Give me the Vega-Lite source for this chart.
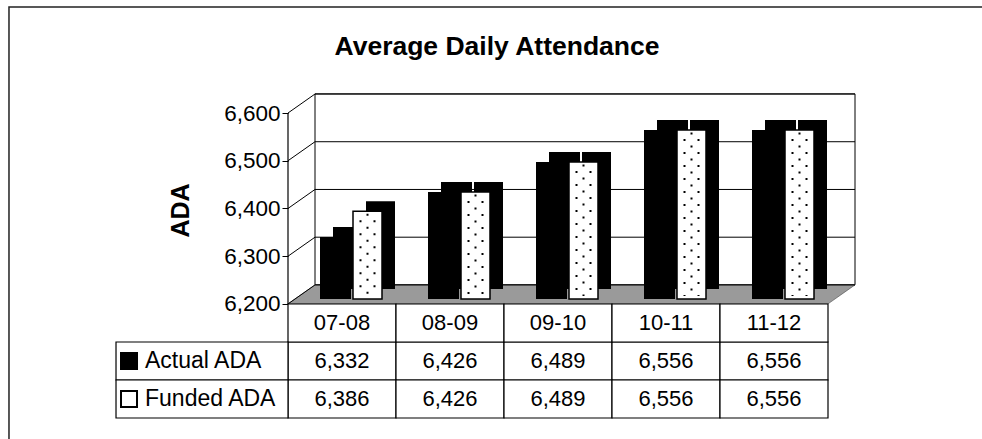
{
  "$schema": "https://vega.github.io/schema/vega-lite/v6.json",
  "width": 540,
  "height": 305,
  "autosize": {"type": "none"},
  "padding": {"left": 288, "top": 113, "right": 154, "bottom": 21},
  "background": "white",
  "config": {"view": {"stroke": null}, "font": "Liberation Sans", "text": {"font": "Liberation Sans"}},
  "title": {"text": "Average Daily Attendance", "font": "Liberation Sans", "fontSize": 26.5, "fontWeight": "bold", "color": "black", "anchor": "middle", "frame": "group", "dx": -61, "offset": -54},
  "datasets": {
    "ada": [
      {"year": "07-08", "series": "Actual ADA", "ada": 6332},
      {"year": "08-09", "series": "Actual ADA", "ada": 6426},
      {"year": "09-10", "series": "Actual ADA", "ada": 6489},
      {"year": "10-11", "series": "Actual ADA", "ada": 6556},
      {"year": "11-12", "series": "Actual ADA", "ada": 6556},
      {"year": "07-08", "series": "Funded ADA", "ada": 6386},
      {"year": "08-09", "series": "Funded ADA", "ada": 6426},
      {"year": "09-10", "series": "Funded ADA", "ada": 6489},
      {"year": "10-11", "series": "Funded ADA", "ada": 6556},
      {"year": "11-12", "series": "Funded ADA", "ada": 6556}
    ],
    "ticks": [{"v": 6200}, {"v": 6300}, {"v": 6400}, {"v": 6500}, {"v": 6600}]
  },
  "resolve": {"scale": {"x": "independent", "y": "independent"}},
  "layer": [
    {
      "data": {"values": [{}]},
      "layer": [
        {
          "mark": {"type": "rect", "fill": "white", "fillOpacity": 0, "stroke": "#222222", "strokeWidth": 1.5},
          "encoding": {
            "x": {"datum": -0.5167, "type": "quantitative", "scale": {"domain": [0, 1], "nice": false, "zero": false}, "axis": null},
            "x2": {"datum": 1.35},
            "y": {"datum": 5890, "type": "quantitative", "scale": {"domain": [5961, 6600], "nice": false, "zero": false}},
            "y2": {"datum": 6822}
          }
        },
        {
          "mark": {"type": "rect", "fill": "white", "stroke": "black", "strokeWidth": 1},
          "encoding": {
            "x": {"datum": 0.05, "type": "quantitative"},
            "x2": {"datum": 1.05},
            "y": {"datum": 6240, "type": "quantitative"},
            "y2": {"datum": 6640}
          }
        },
        {
          "mark": {"type": "point", "shape": "M-1,0.0335L0.9048,0.0335L1,-0.0335L-0.9048,-0.0335Z", "size": 321489, "filled": true, "fill": "#9a9a9a", "stroke": "#444444", "strokeWidth": 0.6, "opacity": 1},
          "encoding": {
            "x": {"datum": 0.525, "type": "quantitative"},
            "y": {"datum": 6220, "type": "quantitative"}
          }
        },
        {
          "data": {"name": "ticks"},
          "mark": {"type": "rule", "color": "black", "strokeWidth": 1, "yOffset": -19},
          "encoding": {
            "x": {"datum": 0.05, "type": "quantitative"},
            "x2": {"datum": 1.05},
            "y": {"field": "v", "type": "quantitative", "axis": {"values": [6200, 6300, 6400, 6500, 6600], "format": ",d", "domain": false, "grid": false, "ticks": true, "tickSize": 6, "tickColor": "black", "labelPadding": 2, "labelFont": "Liberation Sans", "labelFontSize": 22.5, "labelColor": "black", "title": "ADA", "titleFont": "Liberation Sans", "titleFontSize": 25, "titleFontWeight": "bold", "titleColor": "black", "titlePadding": 30, "titleY": 97}}
          }
        },
        {
          "data": {"name": "ticks"},
          "mark": {"type": "rule", "color": "black", "strokeWidth": 1, "y2Offset": -19},
          "encoding": {
            "x": {"datum": 0, "type": "quantitative"},
            "x2": {"datum": 0.05},
            "y": {"field": "v", "type": "quantitative"},
            "y2": {"field": "v"}
          }
        },
        {
          "mark": {"type": "rule", "color": "black", "strokeWidth": 1.2},
          "encoding": {
            "x": {"datum": 0, "type": "quantitative"},
            "y": {"datum": 6200, "type": "quantitative"},
            "y2": {"datum": 6600}
          }
        }
      ]
    },
    {
      "data": {"name": "ada"},
      "encoding": {
        "x": {"field": "year", "type": "nominal", "scale": {"paddingInner": 0, "paddingOuter": 0}, "axis": null},
        "y": {"field": "ada", "type": "quantitative", "scale": {"domain": [5961, 6600], "nice": false, "zero": false}, "axis": null}
      },
      "layer": [
        {
          "transform": [{"filter": "datum.series === 'Actual ADA'"}],
          "mark": {"type": "bar", "color": "black", "width": 31, "xOffset": 6.5, "yOffset": -14, "y2Offset": -15},
          "encoding": {"y2": {"datum": 6200}}
        },
        {
          "transform": [{"filter": "datum.series === 'Funded ADA'"}],
          "mark": {"type": "bar", "color": "black", "width": 29, "xOffset": 38.5, "yOffset": -14, "y2Offset": -15},
          "encoding": {"y2": {"datum": 6200}}
        },
        {
          "transform": [{"filter": "datum.series === 'Actual ADA'"}],
          "mark": {"type": "bar", "color": "black", "width": 31, "xOffset": -6.5, "yOffset": -4, "y2Offset": -5},
          "encoding": {"y2": {"datum": 6200}}
        },
        {
          "transform": [{"filter": "datum.series === 'Funded ADA'"}],
          "mark": {"type": "bar", "fill": "white", "stroke": "black", "strokeWidth": 1.5, "width": 29, "xOffset": 25.5, "yOffset": -4, "y2Offset": -5},
          "encoding": {"y2": {"datum": 6200}}
        },
        {
          "transform": [{"filter": "datum.series === 'Funded ADA'"}],
          "mark": {"type": "rule", "color": "black", "strokeWidth": 2, "strokeDash": [2, 11], "strokeDashOffset": 4, "xOffset": 18.5, "yOffset": -4, "y2Offset": -8},
          "encoding": {"y2": {"datum": 6200}}
        },
        {
          "transform": [{"filter": "datum.series === 'Funded ADA'"}],
          "mark": {"type": "rule", "color": "black", "strokeWidth": 2, "strokeDash": [2, 11], "strokeDashOffset": 4, "xOffset": 32.5, "yOffset": -4, "y2Offset": -8},
          "encoding": {"y2": {"datum": 6200}}
        },
        {
          "transform": [{"filter": "datum.series === 'Funded ADA'"}],
          "mark": {"type": "rule", "color": "black", "strokeWidth": 2, "strokeDash": [2, 11], "strokeDashOffset": 10.5, "xOffset": 25.5, "yOffset": -4, "y2Offset": -8},
          "encoding": {"y2": {"datum": 6200}}
        }
      ]
    },
    {
      "data": {"name": "ada"},
      "encoding": {
        "x": {"field": "year", "type": "nominal", "scale": {"paddingInner": 0, "paddingOuter": 0}, "axis": null},
        "y": {"field": "series", "type": "nominal", "scale": {"domain": ["Year", "Actual ADA", "Funded ADA"], "range": [191, 305], "paddingInner": 0, "paddingOuter": 0}, "axis": null}
      },
      "layer": [
        {
          "mark": {"type": "rect", "fill": "white", "stroke": "black", "strokeWidth": 1.2}
        },
        {
          "transform": [{"filter": "datum.series === 'Actual ADA'"}],
          "mark": {"type": "rect", "fill": "white", "stroke": "black", "strokeWidth": 1.2},
          "encoding": {"y": {"datum": "Year", "type": "nominal"}}
        },
        {
          "mark": {"type": "text", "font": "Liberation Sans", "fontSize": 22, "color": "black", "align": "center", "baseline": "middle"},
          "encoding": {"text": {"field": "ada", "type": "quantitative", "format": ",d"}}
        },
        {
          "transform": [{"filter": "datum.series === 'Actual ADA'"}],
          "mark": {"type": "text", "font": "Liberation Sans", "fontSize": 22, "color": "black", "align": "center", "baseline": "middle"},
          "encoding": {"y": {"datum": "Year", "type": "nominal"}, "text": {"field": "year", "type": "nominal"}}
        }
      ]
    },
    {
      "data": {"name": "ada"},
      "transform": [{"filter": "datum.year === '07-08'"}],
      "encoding": {
        "x": {"datum": -0.3185, "type": "quantitative", "scale": {"domain": [0, 1], "nice": false, "zero": false}, "axis": null},
        "y": {"field": "series", "type": "nominal", "scale": {"domain": ["Year", "Actual ADA", "Funded ADA"], "range": [191, 305], "paddingInner": 0, "paddingOuter": 0}, "axis": null}
      },
      "layer": [
        {
          "mark": {"type": "rect", "fill": "white", "stroke": "black", "strokeWidth": 1.2},
          "encoding": {"x2": {"datum": 0}}
        },
        {
          "mark": {"type": "point", "shape": "square", "size": 256, "filled": true, "stroke": "black", "strokeWidth": 2, "opacity": 1, "xOffset": 13},
          "encoding": {"fill": {"field": "series", "type": "nominal", "scale": {"domain": ["Actual ADA", "Funded ADA"], "range": ["black", "white"]}, "legend": null}}
        },
        {
          "mark": {"type": "text", "font": "Liberation Sans", "fontSize": 23, "color": "black", "align": "left", "baseline": "middle", "dx": 29},
          "encoding": {"text": {"field": "series", "type": "nominal"}}
        }
      ]
    }
  ]
}
